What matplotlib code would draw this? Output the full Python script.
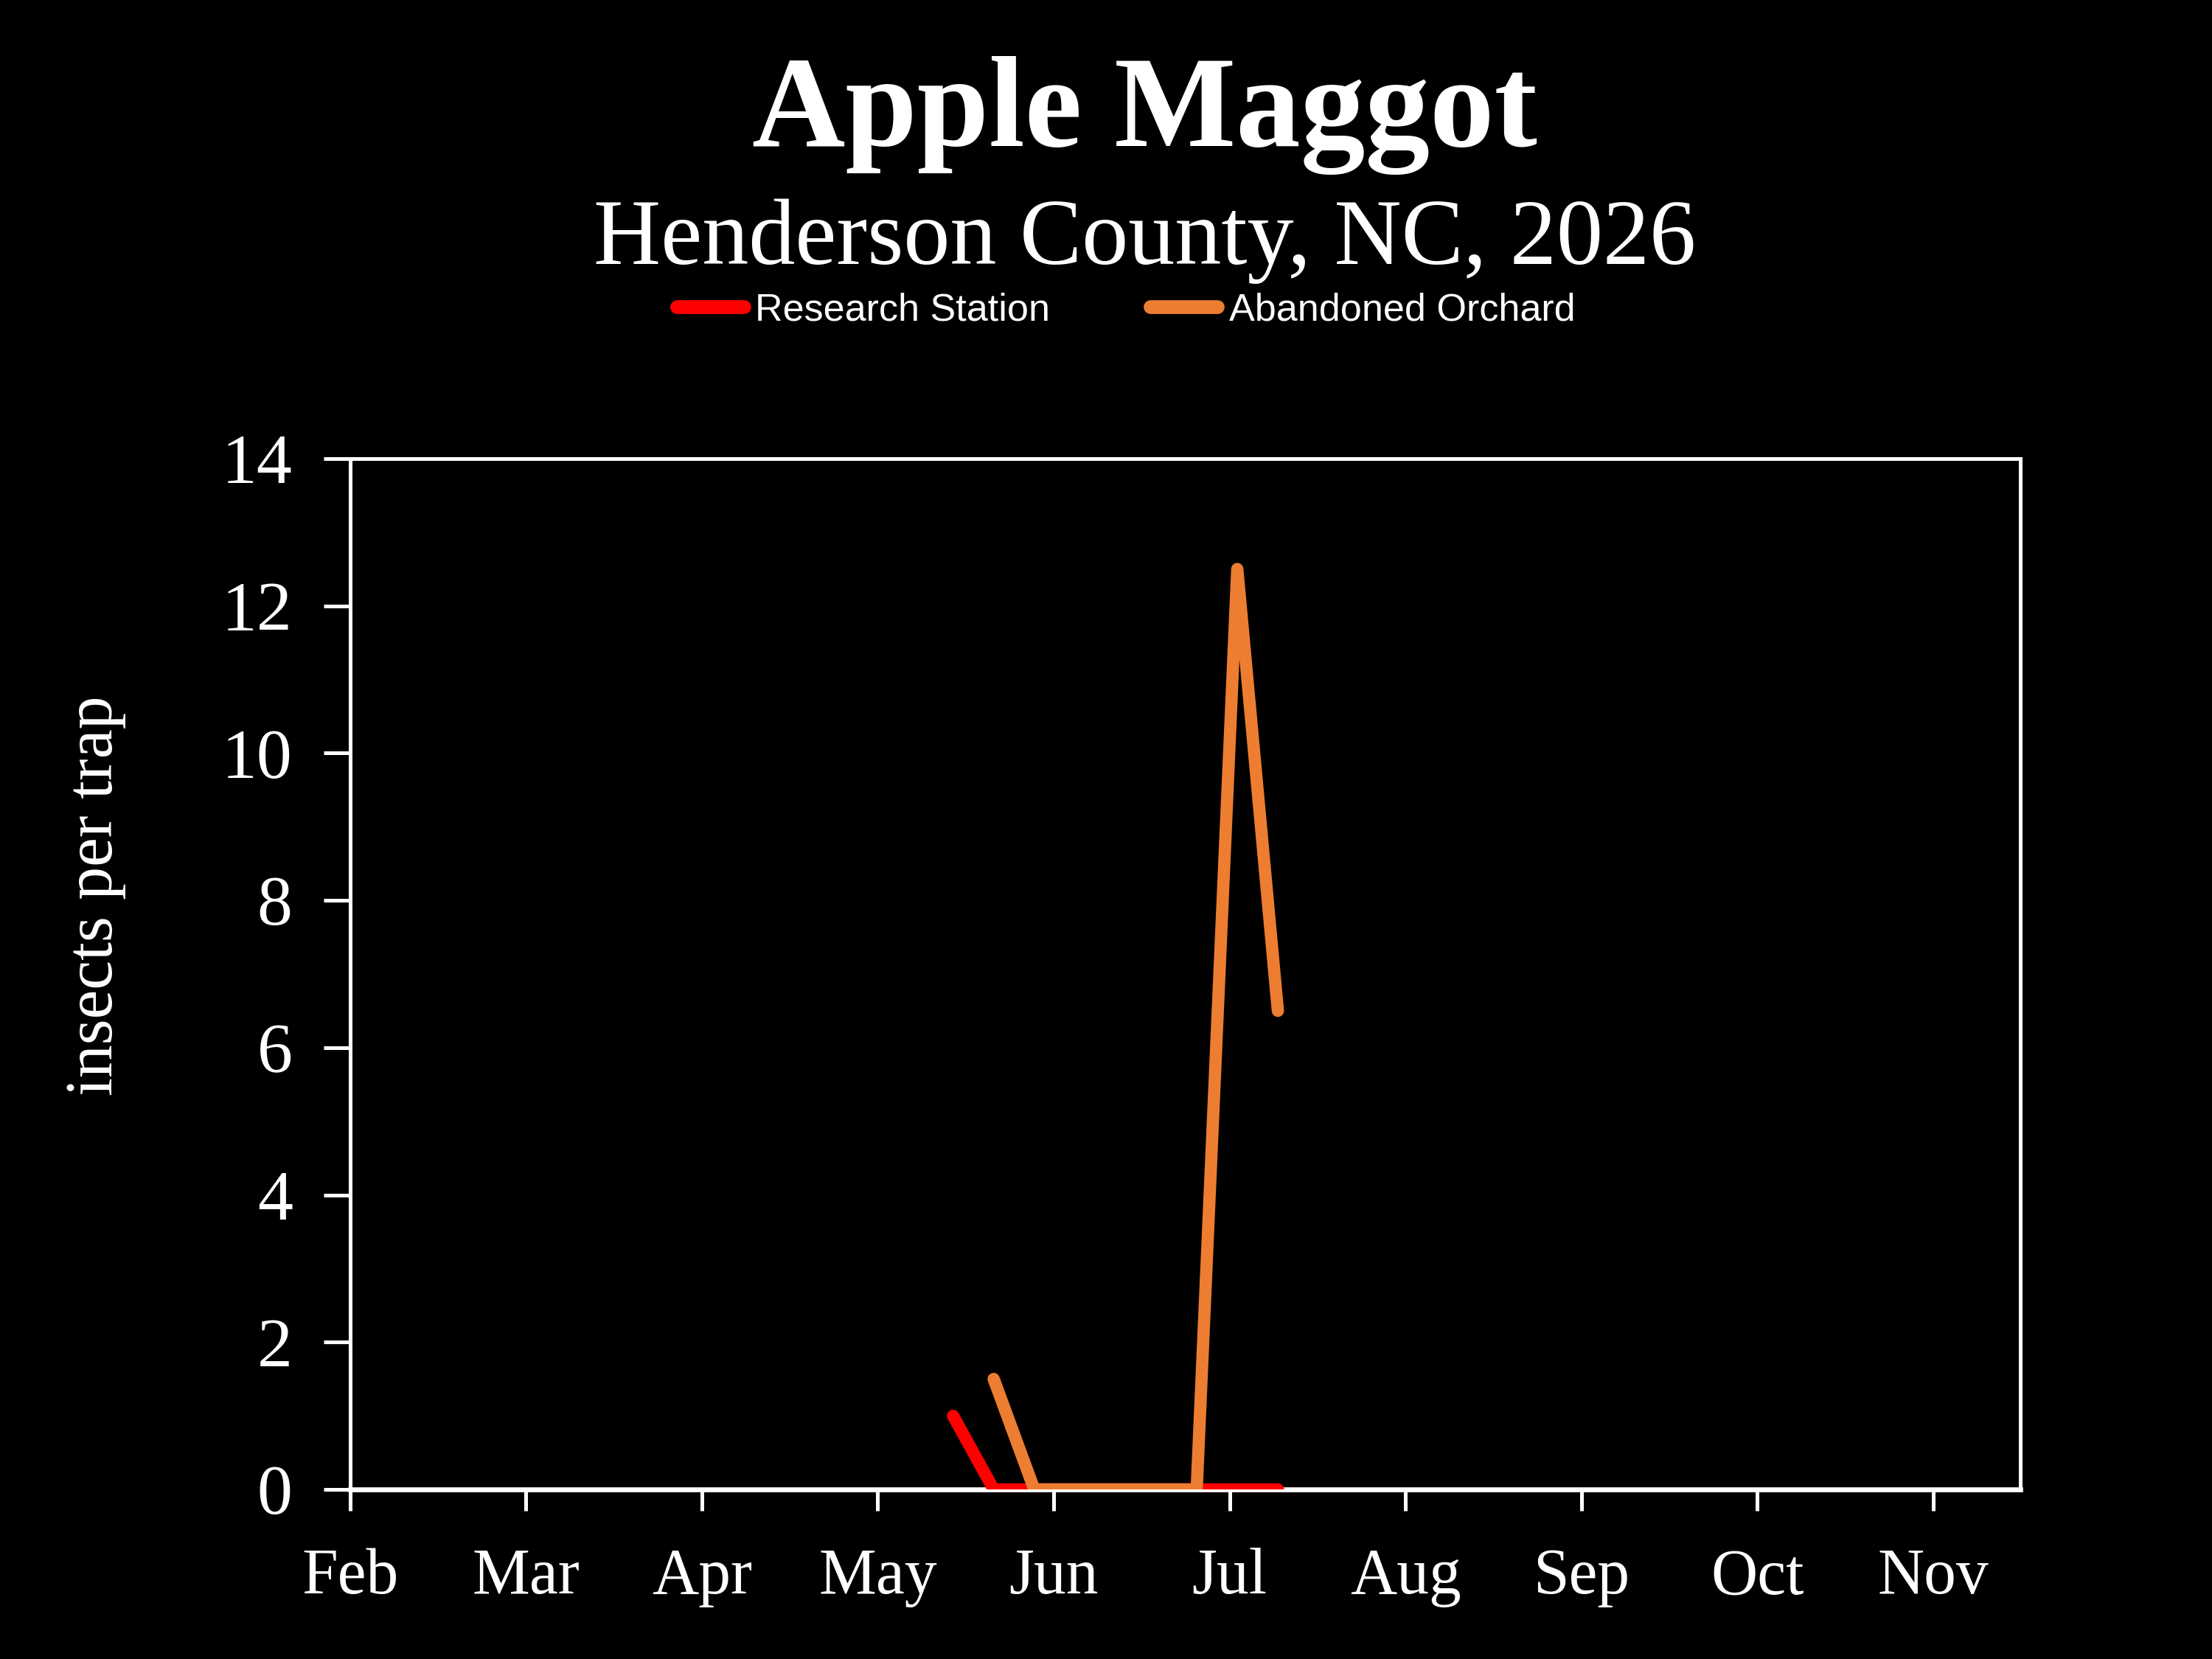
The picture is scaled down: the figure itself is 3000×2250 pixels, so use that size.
import matplotlib
matplotlib.use("Agg")
import matplotlib.pyplot as plt
import matplotlib.dates as mdates
import numpy as np
from datetime import date

# ---- data ----
research_dates = ["2026-05-16", "2026-05-23", "2026-05-30", "2026-06-06", "2026-06-13",
                  "2026-06-20", "2026-06-27", "2026-07-04", "2026-07-11"]
research_vals = [1.0, 0, 0, 0, 0, 0, 0, 0, 0]
orchard_dates = ["2026-05-23", "2026-05-30", "2026-06-06", "2026-06-13", "2026-06-20",
                 "2026-06-27", "2026-07-04", "2026-07-11"]
orchard_vals = [1.5, 0, 0, 0, 0, 0, 12.5, 6.5]
month_labels = ["Feb", "Mar", "Apr", "May", "Jun", "Jul", "Aug", "Sep", "Oct", "Nov"]
y_ticks = [0, 2, 4, 6, 8, 10, 12, 14]

title = "Apple Maggot"
subtitle = "Henderson County, NC, 2026"
ylabel = "insects per trap"

def to_num(lst):
    return [mdates.date2num(date.fromisoformat(s)) for s in lst]

serif = ["Liberation Serif", "DejaVu Serif"]
sans = ["Liberation Sans", "DejaVu Sans"]

fig = plt.figure(figsize=(10, 7.5), dpi=300, facecolor="black")
ax = fig.add_axes([0.1582, 0.1022, 0.9133 - 0.1582, 0.7236 - 0.1022])
ax.set_facecolor("black")

l1, = ax.plot(to_num(research_dates), research_vals, color="#FF0000", lw=4.0,
              solid_capstyle="round", solid_joinstyle="round", label="Research Station", zorder=3)
l2, = ax.plot(to_num(orchard_dates), orchard_vals, color="#ED7D31", lw=4.0,
              solid_capstyle="round", solid_joinstyle="round", label="Abandoned Orchard", zorder=4)

x0 = mdates.date2num(date(2026, 2, 1))
xn = mdates.date2num(date(2026, 11, 1))
tick_pos = np.linspace(x0, xn, len(month_labels))
ax.set_xlim(x0, mdates.date2num(date(2026, 11, 16)))
ax.set_ylim(0, 14)
ax.set_xticks(tick_pos)
ax.set_xticklabels(month_labels, family=serif, fontsize=21, color="white")
ax.set_yticks(y_ticks)
ax.set_yticklabels([str(v) for v in y_ticks], family=serif, fontsize=23, color="white")

for s in ax.spines.values():
    s.set_color("white")
    s.set_linewidth(1.2)
ax.spines["bottom"].set_linewidth(1.6)
ax.tick_params(axis="x", direction="out", length=7, width=1.2, colors="white", pad=12)
ax.tick_params(axis="y", direction="out", length=8.7, width=1.2, colors="white", pad=10)

fig.text(68 / 1568, 1 - 635 / 1176, ylabel, rotation=90, ha="center", va="center",
         family=serif, fontsize=21.5, color="white")

fig.text(0.5175, 0.912, title, ha="center", va="baseline", family=serif,
         fontsize=42, fontweight="bold", color="white")
fig.text(0.5175, 0.841, subtitle, ha="center", va="baseline", family=serif,
         fontsize=30.3, color="white")

leg = fig.legend(handles=[l1, l2], loc="center", bbox_to_anchor=(0.509, 0.813), ncol=2,
                 frameon=False, prop={"family": sans, "size": 12.5}, handlelength=1.75,
                 handletextpad=0.3, columnspacing=2.6)
for t in leg.get_texts():
    t.set_color("white")
for h in leg.get_lines():
    h.set_linewidth(4.5)
    h.set_solid_capstyle("round")

fig.savefig("out.png", dpi=300, facecolor="black")
